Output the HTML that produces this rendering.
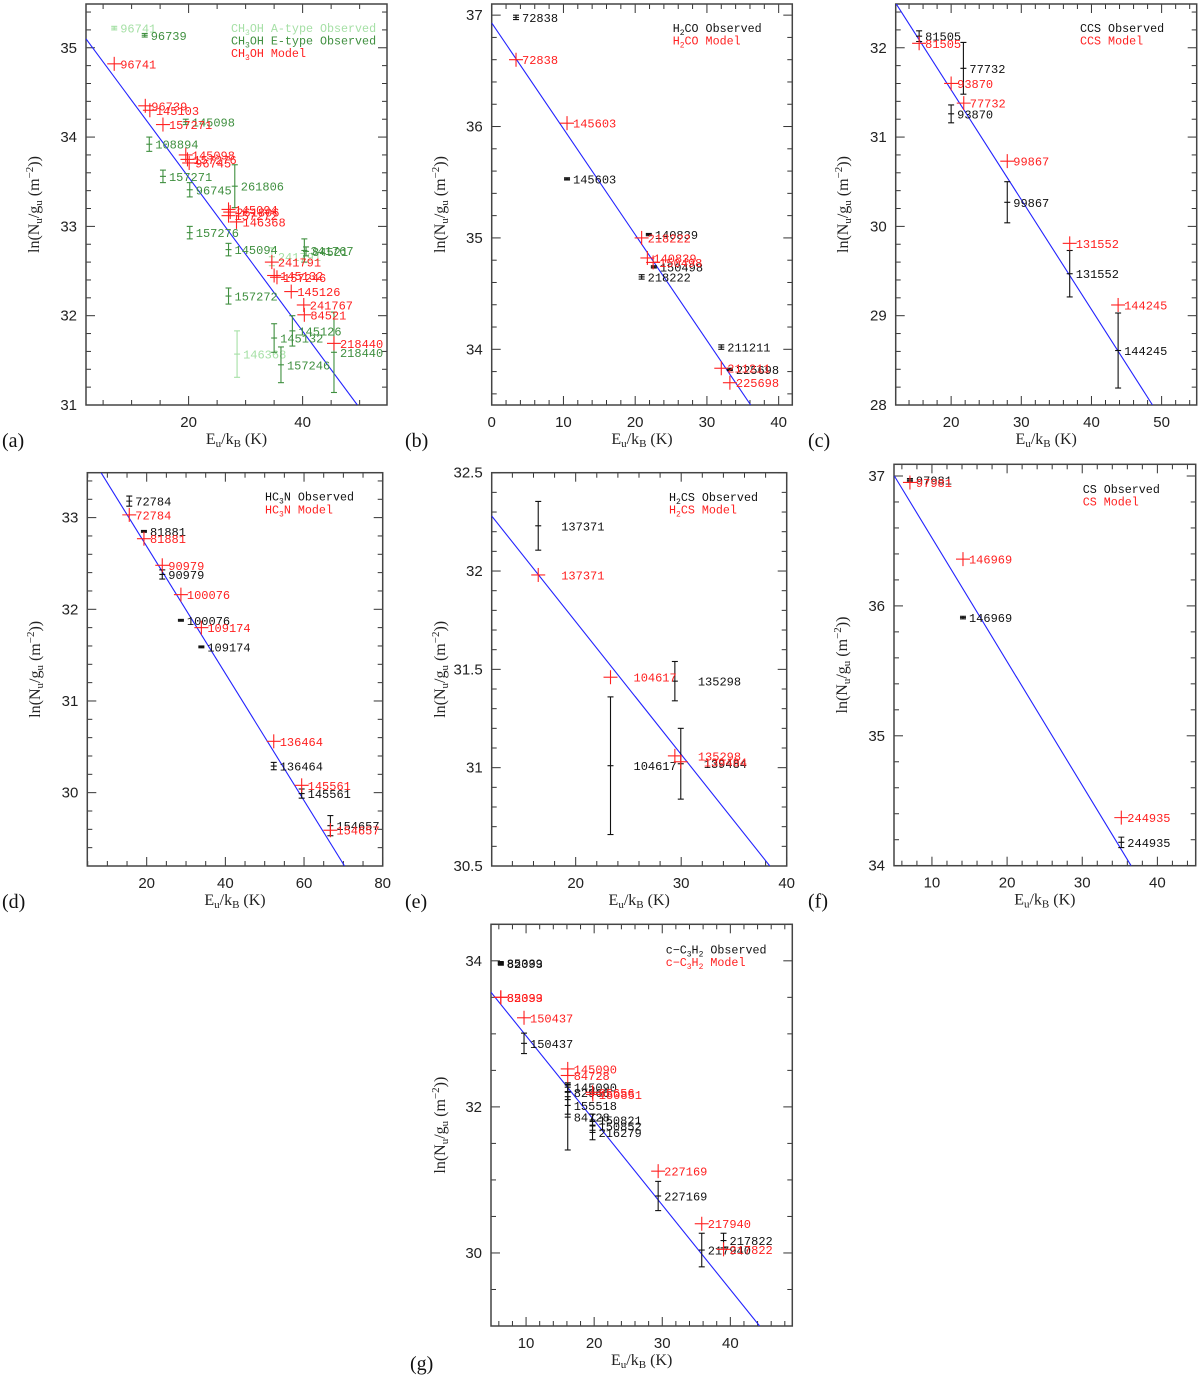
<!DOCTYPE html>
<html><head><meta charset="utf-8"><style>
html,body{margin:0;padding:0;background:#fff;}
svg{display:block;}
</style></head><body>
<svg id="fig" width="1200" height="1375" viewBox="0 0 1200 1375" xmlns="http://www.w3.org/2000/svg"></svg>
<script>
// ---------- DATA (x = Eu/kB in K, y = ln(Nu/gu), err, label) ----------
const aObsA = [[6.95,35.22,0.02,'96741'],[28.5,31.57,0.26,'146368'],[34.6,32.66,0.1,'241791']];
const aObsE = [[12.3,35.14,0.02,'96739'],[19.5,34.17,0.03,'145098'],[13.1,33.92,0.08,'108894'],[15.5,33.56,0.07,'157271'],[20.2,33.41,0.08,'96745'],[28.1,33.45,0.24,'261806'],[20.2,32.93,0.07,'157276'],[27.0,32.74,0.07,'145094'],[27.0,32.22,0.09,'157272'],[40.3,32.73,0.13,'341767'],[40.6,32.72,0.05,'84521'],[38.2,31.83,0.17,'145126'],[35.0,31.75,0.16,'145132'],[36.2,31.45,0.2,'157246'],[45.5,31.59,0.45,'218440']];
const aMod = [[6.95,34.82,'96741'],[12.4,34.35,'96739'],[13.2,34.30,'145103'],[15.5,34.14,'157271'],[19.5,33.80,'145098'],[19.8,33.75,'157276'],[20.1,33.71,'96745'],[27.0,33.19,'145094'],[27.0,33.12,'157272'],[27.3,33.16,'261806'],[28.4,33.05,'146368'],[34.6,32.60,'241791'],[35.0,32.45,'145132'],[35.5,32.43,'157246'],[38.0,32.27,'145126'],[40.2,32.12,'241767'],[40.3,32.01,'84521'],[45.5,31.69,'218440']];
const aFit = [[2.0,35.1],[49.6,31.0]];

const bObs = [[3.39,36.98,0.02,'72838'],[10.5,35.53,0.01,'145603'],[21.9,35.03,0.01,'140839'],[22.6,34.74,0.01,'150498'],[20.9,34.65,0.02,'218222'],[32.0,34.02,0.02,'211211'],[33.2,33.82,0.01,'225698']];
const bMod = [[3.39,36.60,'72838'],[10.5,36.03,'145603'],[20.9,35.0,'218222'],[21.7,34.82,'140839'],[22.5,34.78,'150498'],[32.0,33.83,'211211'],[33.2,33.70,'225698']];
const bFit = [[0,36.93],[36.1,33.5]];

const cObs = [[15.44,32.13,0.06,'81505'],[21.75,31.77,0.29,'77732'],[20.0,31.26,0.1,'93870'],[28.0,30.27,0.23,'99867'],[36.9,29.47,0.26,'131552'],[43.8,28.61,0.42,'144245']];
const cMod = [[15.44,32.05,'81505'],[20.0,31.6,'93870'],[21.8,31.38,'77732'],[28.0,30.73,'99867'],[36.9,29.81,'131552'],[43.8,29.12,'144245']];
const cFit = [[12.1,32.5],[48.7,28.0]];

const dObs = [[15.57,33.18,0.055,'72784'],[19.3,32.85,0.01,'81881'],[23.96,32.38,0.05,'90979'],[28.7,31.88,0.01,'100076'],[33.9,31.59,0.01,'109174'],[52.3,30.29,0.04,'136464'],[59.4,29.99,0.05,'145561'],[66.7,29.64,0.11,'154657']];
const dMod = [[15.57,33.03,'72784'],[19.3,32.77,'81881'],[23.96,32.48,'90979'],[28.7,32.16,'100076'],[33.9,31.80,'109174'],[52.3,30.56,'136464'],[59.4,30.08,'145561'],[66.7,29.59,'154657']];
const dFit = [[8.4,33.49],[70.3,29.2]];

const eObs = [[16.45,32.23,0.124,'137371'],[23.3,31.01,0.35,'104617'],[29.4,31.44,0.1,'135298'],[29.96,31.02,0.18,'139484']];
const eMod = [[16.45,31.98,'137371'],[23.3,31.46,'104617'],[29.4,31.06,'135298'],[29.96,31.03,'139484']];
const eFit = [[12.04,32.28],[38.4,30.5]];

const fObs = [[7.07,36.97,0.01,'97981'],[14.13,35.91,0.01,'146969'],[35.2,34.18,0.04,'244935']];
const fMod = [[7.07,36.95,'97981'],[14.13,36.36,'146969'],[35.2,34.37,'244935']];
const fFit = [[5.0,37.0],[36.5,34.0]];

const gObs = [[6.28,33.97,0.02,'85339'],[6.3,33.96,0.02,'82093'],[9.7,32.87,0.14,'150437'],[16.12,32.27,0.06,'145090'],[16.12,32.2,0.1,'82966'],[16.12,32.02,0.12,'155518'],[16.12,31.86,0.45,'84728'],[19.76,31.82,0.08,'150821'],[19.76,31.74,0.06,'150852'],[19.76,31.65,0.1,'216279'],[29.4,30.78,0.2,'227169'],[35.8,30.04,0.23,'217940'],[39.0,30.17,0.1,'217822']];
const gMod = [[6.28,33.50,'85339'],[6.3,33.50,'82093'],[9.7,33.22,'150437'],[16.12,32.52,'145090'],[16.12,32.43,'84728'],[19.76,32.2,'85656'],[19.8,32.17,'150851'],[29.4,31.12,'227169'],[35.8,30.40,'217940'],[39.0,30.05,'217822']];
const gFit = [[4.85,33.57],[44.3,29.0]];

// ---------- DRAWING ----------
const NS='http://www.w3.org/2000/svg';
const svg=document.getElementById('fig');
function mk(tag,attrs,parent){const e=document.createElementNS(NS,tag);for(const k in attrs)e.setAttribute(k,attrs[k]);(parent||svg).appendChild(e);return e;}

const panels=[
 {id:'a',L:86,T:4,R:387,B:405,x0:2.0,x1:54.8,y0:31,y1:35.49,xMaj:20,xMin:5,yMaj:1,yMin:0.2,yTitleX:39,
  series:[{obs:aObsA,color:'#a6e0a6'},{obs:aObsE,color:'#3f8f3f'}],mod:aMod,fit:aFit,
  legend:{x:231,y:28,lines:[['#a6e0a6','CH<tspan dy="3" font-size="8">3</tspan><tspan dy="-3">OH A-type Observed</tspan>'],['#3f8f3f','CH<tspan dy="3" font-size="8">3</tspan><tspan dy="-3">OH E-type Observed</tspan>'],['#ff2020','CH<tspan dy="3" font-size="8">3</tspan><tspan dy="-3">OH Model</tspan>']]}},
 {id:'b',L:491.7,T:4,R:792.3,B:405,x0:0,x1:41.9,y0:33.5,y1:37.1,xMaj:10,xMin:2,yMaj:1,yMin:0.2,yTitleX:445,
  series:[{obs:bObs,color:'#111'}],mod:bMod,fit:bFit,
  legend:{x:672.7,y:28,lines:[['#111','H<tspan dy="3" font-size="8">2</tspan><tspan dy="-3">CO Observed</tspan>'],['#ff2020','H<tspan dy="3" font-size="8">2</tspan><tspan dy="-3">CO Model</tspan>']]}},
 {id:'c',L:895.7,T:4,R:1196.7,B:405,x0:12.1,x1:55.0,y0:28,y1:32.49,xMaj:10,xMin:2,yMaj:1,yMin:0.2,yTitleX:848,
  series:[{obs:cObs,color:'#111'}],mod:cMod,fit:cFit,
  legend:{x:1080,y:28,lines:[['#111','CCS Observed'],['#ff2020','CCS Model']]}},
 {id:'d',L:87.3,T:472.7,R:382.7,B:866,x0:4.9,x1:80,y0:29.2,y1:33.49,xMaj:20,xMin:5,yMaj:1,yMin:0.2,yTitleX:40,
  series:[{obs:dObs,color:'#111'}],mod:dMod,fit:dFit,
  legend:{x:265,y:496.7,lines:[['#111','HC<tspan dy="3" font-size="8">3</tspan><tspan dy="-3">N Observed</tspan>'],['#ff2020','HC<tspan dy="3" font-size="8">3</tspan><tspan dy="-3">N Model</tspan>']]}},
 {id:'e',L:491.7,T:472.7,R:786.7,B:866,x0:12.04,x1:40,y0:30.5,y1:32.5,xMaj:10,xMin:2,yMaj:0.5,yMin:0.1,yTitleX:445,labelDx:23,
  series:[{obs:eObs,color:'#111'}],mod:eMod,fit:eFit,
  legend:{x:669,y:497,lines:[['#111','H<tspan dy="3" font-size="8">2</tspan><tspan dy="-3">CS Observed</tspan>'],['#ff2020','H<tspan dy="3" font-size="8">2</tspan><tspan dy="-3">CS Model</tspan>']]}},
 {id:'f',L:894,T:464.3,R:1195.7,B:865.7,x0:4.95,x1:45.1,y0:34,y1:37.09,xMaj:10,xMin:2,yMaj:1,yMin:0.2,yTitleX:847,
  series:[{obs:fObs,color:'#111'}],mod:fMod,fit:fFit,
  legend:{x:1082.7,y:489,lines:[['#111','CS Observed'],['#ff2020','CS Model']]}},
 {id:'g',L:491,T:924.3,R:792.3,B:1326,x0:4.85,x1:49.1,y0:29.0,y1:34.5,xMaj:10,xMin:2,yMaj:2,yMin:0.5,yTitleX:445,
  series:[{obs:gObs,color:'#111'}],mod:gMod,fit:gFit,
  legend:{x:665.7,y:949.3,lines:[['#111','c&#8722;C<tspan dy="3" font-size="8">3</tspan><tspan dy="-3">H</tspan><tspan dy="3" font-size="8">2</tspan><tspan dy="-3"> Observed</tspan>'],['#ff2020','c&#8722;C<tspan dy="3" font-size="8">3</tspan><tspan dy="-3">H</tspan><tspan dy="3" font-size="8">2</tspan><tspan dy="-3"> Model</tspan>']]}}
];

function fmt(v,step){return step<1?(Math.abs(v-Math.round(v))<1e-6?String(Math.round(v)):v.toFixed(1)):String(Math.round(v));}

panels.forEach(p=>{
  const g=mk('g',{});
  
  
  const sx=v=>p.L+(v-p.x0)/(p.x1-p.x0)*(p.R-p.L);
  const sy=v=>p.B-(v-p.y0)/(p.y1-p.y0)*(p.B-p.T);
  const cp=mk('clipPath',{id:'clip-'+p.id},g);
  mk('rect',{x:p.L,y:p.T,width:p.R-p.L,height:p.B-p.T},cp);
  const tg=mk('g',{stroke:'#333','stroke-width':1},g);
  
  
  for(let v=Math.ceil(p.x0/p.xMin-1e-6)*p.xMin;v<=p.x1+1e-6;v+=p.xMin){
    const maj=Math.abs(v/p.xMaj-Math.round(v/p.xMaj))<1e-6;const len=maj?9:5;const X=sx(v);
    mk('line',{x1:X,x2:X,y1:p.B,y2:p.B-len},tg);mk('line',{x1:X,x2:X,y1:p.T,y2:p.T+len},tg);
    if(maj){const t=mk('text',{x:X,y:p.B+22,'text-anchor':'middle','font-family':'Liberation Sans, sans-serif','font-size':15,fill:'#222'},g);t.textContent=fmt(v,p.xMaj);
      }
  }
  for(let v=Math.ceil(p.y0/p.yMin-1e-6)*p.yMin;v<=p.y1+1e-6;v+=p.yMin){
    const maj=Math.abs(v/p.yMaj-Math.round(v/p.yMaj))<1e-6;const len=maj?9:5;const Y=sy(v);
    mk('line',{x1:p.L,x2:p.L+len,y1:Y,y2:Y},tg);mk('line',{x1:p.R,x2:p.R-len,y1:Y,y2:Y},tg);
    if(maj){const t=mk('text',{x:p.L-9,y:Y+5,'text-anchor':'end','font-family':'Liberation Sans, sans-serif','font-size':15,fill:'#222'},g);t.textContent=fmt(v,p.yMaj);
      }
  }
  const fr=mk('rect',{x:p.L,y:p.T,width:p.R-p.L,height:p.B-p.T,fill:'none',stroke:'#444','stroke-width':1.5},g);
  
  const cg=mk('g',{'clip-path':'url(#clip-'+p.id+')'},g);
  const fl=mk('line',{x1:sx(p.fit[0][0]),y1:sy(p.fit[0][1]),x2:sx(p.fit[1][0]),y2:sy(p.fit[1][1]),stroke:'#2222ff','stroke-width':1.1},cg);
  
  const dx=p.labelDx||6;
  p.series.forEach(s=>{
    s.obs.forEach(d=>{
      const X=sx(d[0]),Y=sy(d[1]),y1=sy(d[1]+d[2]),y2=sy(d[1]-d[2]);
      const og=mk('g',{stroke:s.color,'stroke-width':1.1},cg);
      
      mk('line',{x1:X,x2:X,y1:y1,y2:y2},og);
      mk('line',{x1:X-3,x2:X+3,y1:y1,y2:y1},og);
      mk('line',{x1:X-3,x2:X+3,y1:y2,y2:y2},og);
      mk('line',{x1:X-3,x2:X+3,y1:Y,y2:Y},og);
      const t=mk('text',{x:X+dx,y:Y+4.5,'font-family':'Liberation Mono, monospace','font-size':12,fill:s.color},cg);
      t.textContent=d[3];
      
    });
  });
  p.mod.forEach(d=>{
    const X=sx(d[0]),Y=sy(d[1]);
    const mg=mk('g',{stroke:'#ff2020','stroke-width':1.1},cg);
    
    mk('line',{x1:X-7,x2:X+7,y1:Y,y2:Y},mg);mk('line',{x1:X,x2:X,y1:Y-7,y2:Y+7},mg);
    const t=mk('text',{x:X+dx,y:Y+4.5,'font-family':'Liberation Mono, monospace','font-size':12,fill:'#ff2020'},cg);
    t.textContent=d[2];
    
  });
  const lg=mk('g',{},g);
  
  p.legend.lines.forEach((ln,i)=>{
    const t=mk('text',{x:p.legend.x,y:p.legend.y+4+i*12.6,'font-family':'Liberation Mono, monospace','font-size':11.7,fill:ln[0]},lg);
    t.innerHTML=ln[1];
    
  });
  const xt=mk('text',{x:(p.L+p.R)/2,y:p.B+39,'text-anchor':'middle','font-family':'Liberation Serif, serif','font-size':16,fill:'#222'},g);
  xt.innerHTML='E<tspan dy="3" font-size="11">u</tspan><tspan dy="-3">/k</tspan><tspan dy="3" font-size="11">B</tspan><tspan dy="-3"> (K)</tspan>';
  
  const cy=(p.T+p.B)/2;
  const yt=mk('text',{x:p.yTitleX,y:cy,'text-anchor':'middle','font-family':'Liberation Serif, serif','font-size':16,fill:'#222',transform:'rotate(-90 '+p.yTitleX+' '+cy+')'},g);
  yt.innerHTML='ln(N<tspan dy="3" font-size="11">u</tspan><tspan dy="-3">/g</tspan><tspan dy="3" font-size="11">u</tspan><tspan dy="-3"> (m</tspan><tspan dy="-6" font-size="11">&#8722;2</tspan><tspan dy="6">))</tspan>';
  
  const plx = p.id==='g'?410:(p.L<400?2:(p.L<800?405:808));
  const pl=mk('text',{x:plx,y:p.B+(p.id==='g'?44:42),'font-family':'Liberation Serif, serif','font-size':20,fill:'#111'},g);
  pl.textContent='('+p.id+')';
  
});
</script>
</body></html>
